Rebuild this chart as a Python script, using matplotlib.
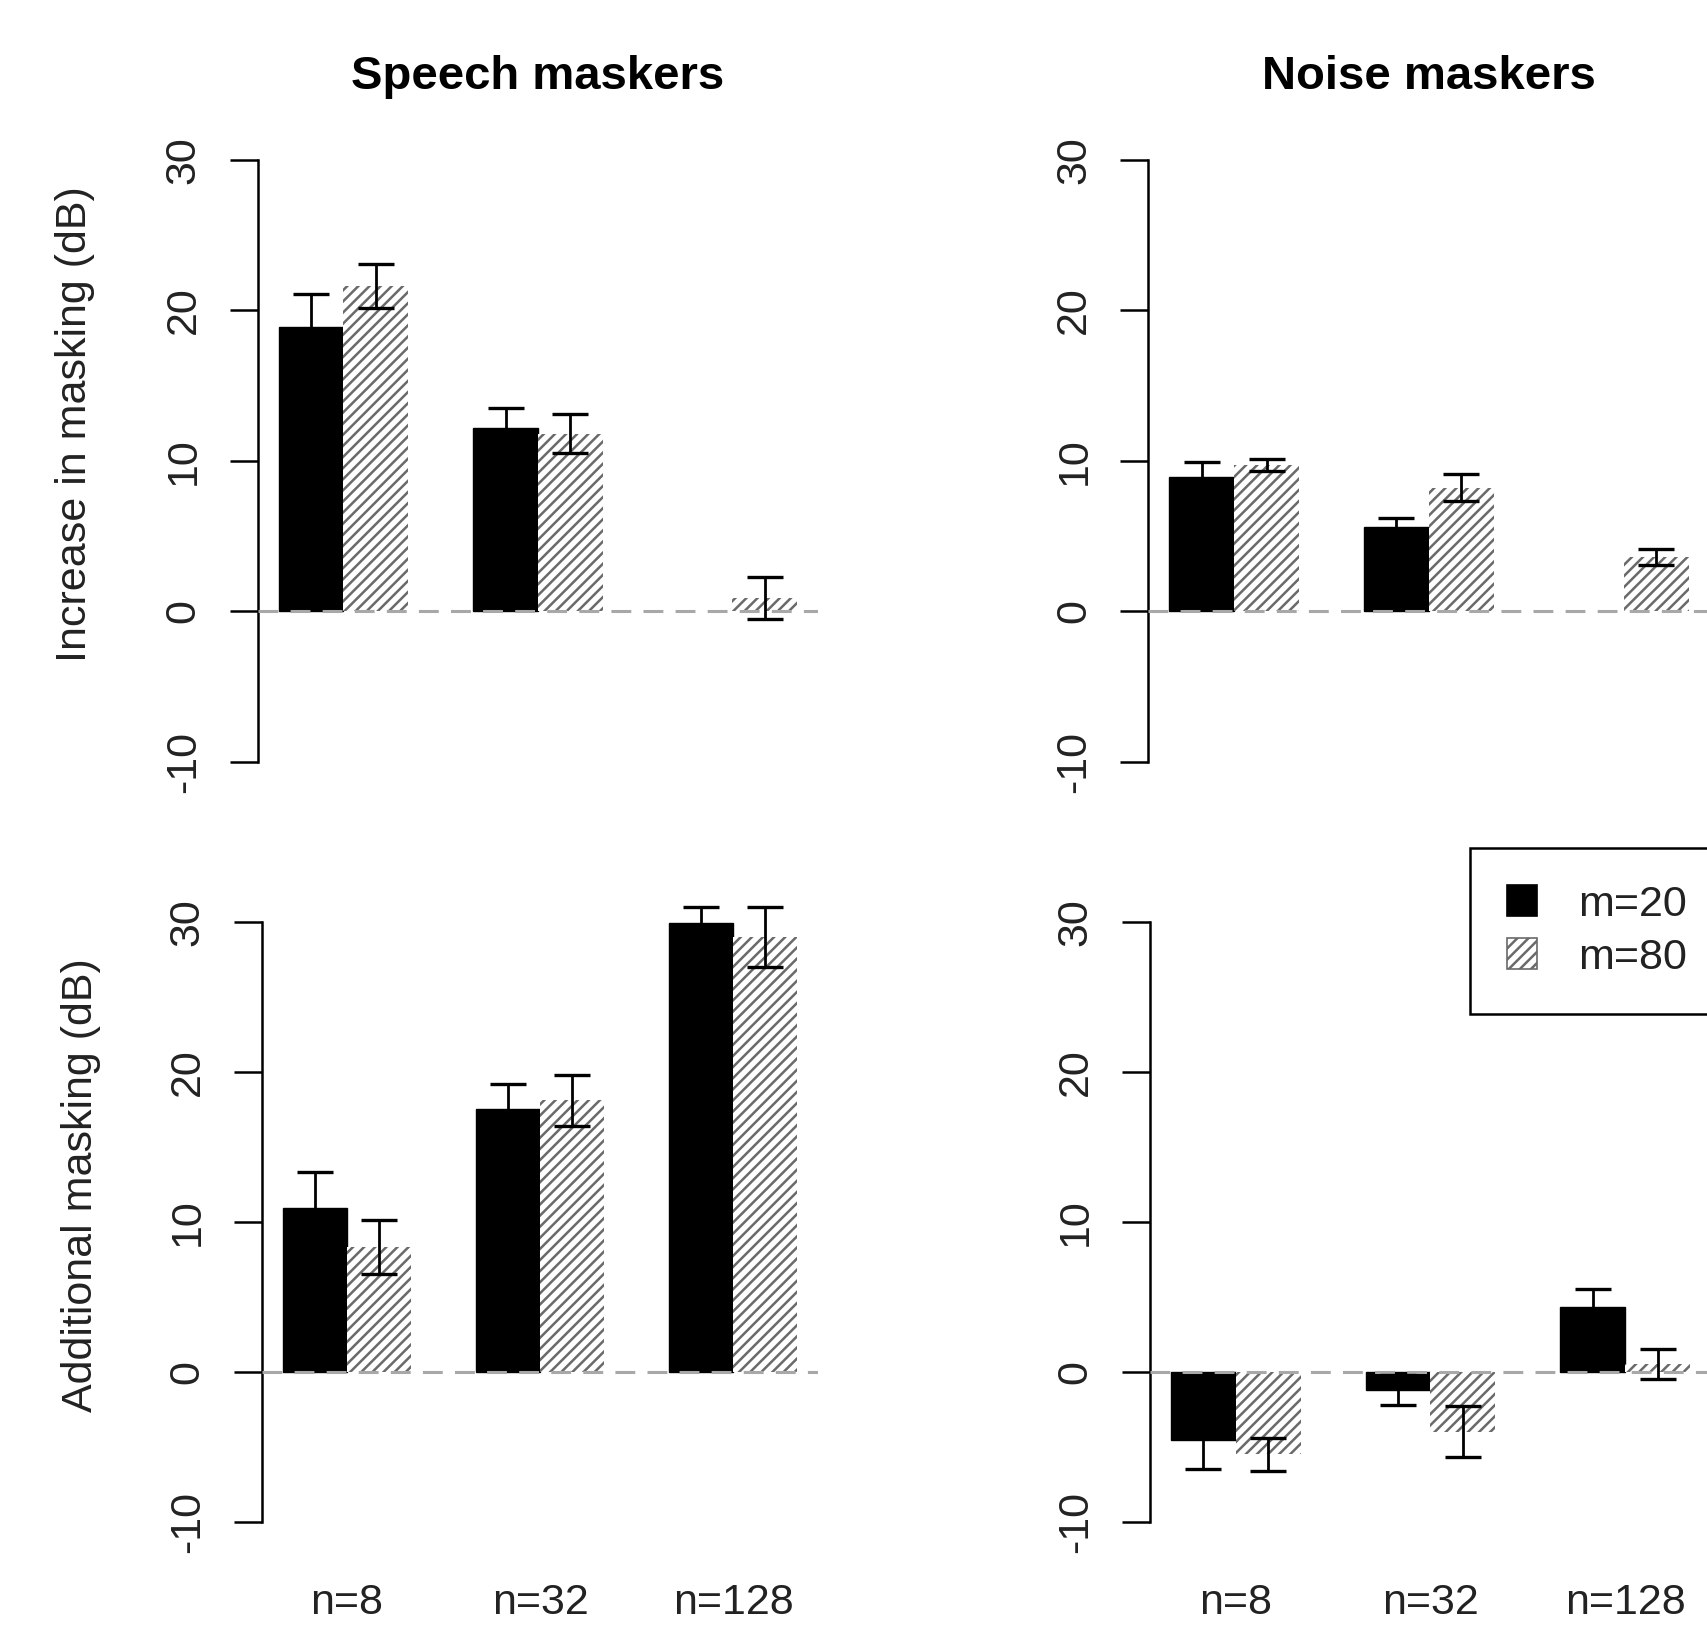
import numpy as np
import matplotlib
matplotlib.use("Agg")
import matplotlib.pyplot as plt
from matplotlib.patches import Patch

plt.rcParams['font.family'] = ['Liberation Sans', 'DejaVu Sans']
plt.rcParams['hatch.linewidth'] = 1.8

# ---------------- data ----------------
groups = ['n=8', 'n=32', 'n=128']
series = ['m=20', 'm=80']
titles = ['Speech maskers', 'Noise maskers']
ylabels = ['Increase in masking (dB)', 'Additional masking (dB)']
yticks = [-10, 0, 10, 20, 30]

speech_inc_m20 = [18.9, 12.2, np.nan]
speech_inc_m20_err = [2.2, 1.3, np.nan]
speech_inc_m80 = [21.6, 11.8, 0.9]
speech_inc_m80_err = [1.45, 1.3, 1.4]

noise_inc_m20 = [8.9, 5.6, np.nan]
noise_inc_m20_err = [1.0, 0.6, np.nan]
noise_inc_m80 = [9.7, 8.2, 3.6]
noise_inc_m80_err = [0.4, 0.9, 0.55]

speech_add_m20 = [10.9, 17.5, 29.9]
speech_add_m20_err = [2.4, 1.7, 1.1]
speech_add_m80 = [8.3, 18.1, 29.0]
speech_add_m80_err = [1.8, 1.7, 2.0]

noise_add_m20 = [-4.55, -1.2, 4.3]
noise_add_m20_err = [1.9, 1.0, 1.25]
noise_add_m80 = [-5.5, -4.0, 0.5]
noise_add_m80_err = [1.1, 1.7, 1.0]

panels = [
    # (row, col, m20, m20err, m80, m80err)
    (0, 0, speech_inc_m20, speech_inc_m20_err, speech_inc_m80, speech_inc_m80_err),
    (0, 1, noise_inc_m20, noise_inc_m20_err, noise_inc_m80, noise_inc_m80_err),
    (1, 0, speech_add_m20, speech_add_m20_err, speech_add_m80, speech_add_m80_err),
    (1, 1, noise_add_m20, noise_add_m20_err, noise_add_m80, noise_add_m80_err),
]

# ---------------- layout ----------------
W, H = 1707, 1627
fig = plt.figure(figsize=(W / 100, H / 100), dpi=100)

positions = {
    (0, 0): [0.1511, 0.5170, 0.3281, 0.3995],
    (0, 1): [0.6728, 0.5170, 0.3286, 0.3995],
    (1, 0): [0.1535, 0.0498, 0.3257, 0.3983],
    (1, 1): [0.6737, 0.0498, 0.3286, 0.3983],
}

HATCH_COL = '#6a6a6a'
FS = 31

centers = np.arange(len(groups)) * 3 + 2.0
x20 = centers - 0.5
x80 = centers + 0.5

for row, col, m20, e20, m80, e80 in panels:
    ax = fig.add_axes(positions[(row, col)])
    ax.bar(x20, m20, width=1.0, color='black', edgecolor='black',
           linewidth=1.0, zorder=2)
    ax.bar(x80, m80, width=1.0, facecolor='white', edgecolor=HATCH_COL,
           hatch='///', linewidth=0, zorder=2)
    ax.axhline(0, color='#a8a8a8', lw=2.2, dashes=(6.5, 4), zorder=3)
    ax.errorbar(x20, m20, yerr=e20, fmt='none', ecolor='black', elinewidth=2.0,
                capsize=13, capthick=2.4, zorder=4)
    ax.errorbar(x80, m80, yerr=e80, fmt='none', ecolor='black', elinewidth=2.0,
                capsize=13, capthick=2.4, zorder=4)

    ax.set_xlim(0.68, 9.32)
    ax.set_ylim(-11.6, 31.6)
    for s in ['top', 'right', 'bottom']:
        ax.spines[s].set_visible(False)
    ax.spines['left'].set_bounds(-10, 30)
    ax.spines['left'].set_linewidth(1.8)
    ax.set_yticks(yticks)
    ax.set_yticklabels([str(t) for t in yticks], rotation=90, va='center',
                       fontsize=FS, color='#222222')
    ax.tick_params(axis='y', length=20, width=1.8, pad=19)
    ax.set_facecolor('none')

    if row == 1:
        ax.set_xticks(centers)
        ax.set_xticklabels(groups, fontsize=FS, color='#222222')
        ax.tick_params(axis='x', length=0, pad=27)
    else:
        ax.set_xticks([])
        ax.set_title(titles[col], fontsize=34, fontweight='bold', pad=34)

    if col == 0:
        ax.set_ylabel(ylabels[row], fontsize=FS, va='center', color='#222222')
        ax.yaxis.set_label_coords(-0.326, 0.557)

    if row == 1 and col == 1:
        handles = [Patch(facecolor='black', edgecolor='black', linewidth=1.2),
                   Patch(facecolor='white', edgecolor=HATCH_COL, hatch='///', linewidth=1.2)]
        leg = fig.legend(handles, series, loc='upper left',
                         bbox_to_anchor=(1470 / W, 1 - 848 / H),
                         bbox_transform=fig.transFigure,
                         fontsize=FS, frameon=True, fancybox=False,
                         edgecolor='black', framealpha=1.0,
                         handlelength=0.7, handleheight=0.7, handletextpad=0.95,
                         borderpad=0.85, labelspacing=0.3, borderaxespad=0)
        leg.get_frame().set_linewidth(1.8)
        for t in leg.get_texts():
            t.set_color('#222222')

fig.savefig('out.png', dpi=100, facecolor='white')
